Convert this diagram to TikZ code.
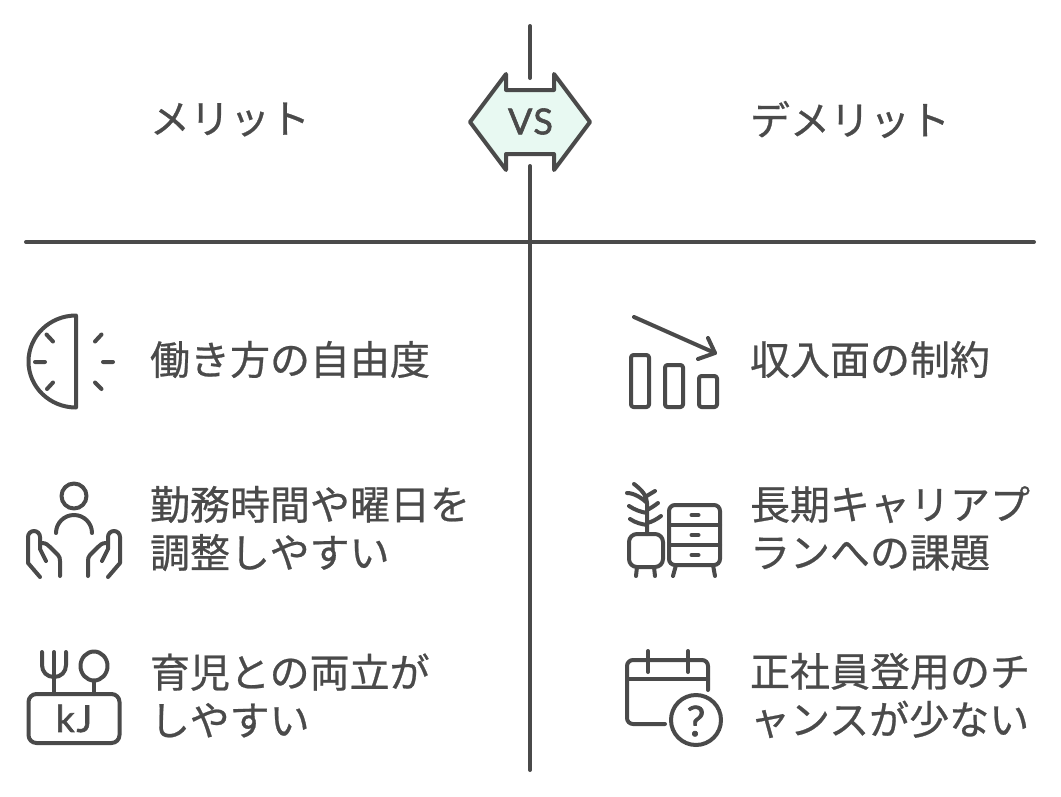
\documentclass[tikz,border=0pt]{standalone}
\usepackage{fontspec}
\newfontfamily\jp[RawFeature={embolden=0.6}]{Noto Sans CJK JP}
\newfontfamily\lat[RawFeature={embolden=1.6}]{Lato}
\definecolor{ink}{HTML}{4A4A4A}
\definecolor{mint}{HTML}{E8F9F2}
\tikzset{
  axis/.style={draw=ink,line width=4pt,line cap=round},
  ico/.style={draw=ink,line width=4pt,line cap=round,line join=round},
  label/.style={anchor=west,inner sep=0pt,outer sep=0pt,text=ink,align=left,
    font={\jp\fontsize{40}{48}\selectfont}},
  latin/.style={inner sep=0pt,outer sep=0pt,text=ink}
}
\begin{document}
\begin{tikzpicture}[x=1pt,y=-1pt]
\useasboundingbox (0,0) rectangle (1061,796);
\fill[white] (0,0) rectangle (1061,796);
% axes
\coordinate (vt) at (530,26); \coordinate (vm) at (530,78);
\coordinate (vb) at (530,166); \coordinate (ve) at (530,770);
\coordinate (hl) at (26,242); \coordinate (hr) at (1034,242);
\draw[axis] (vt) -- (vm);
\draw[axis] (vb) -- (ve);
\draw[axis] (hl) -- (hr);
% VS badge
\draw[draw=ink,fill=mint,line width=4pt,line join=round]
  (470,122) -- (506,74) -- (506,90) -- (554,90) -- (554,74) -- (590,122)
  -- (554,170) -- (554,154) -- (506,154) -- (506,170) -- cycle;
\node[latin,font={\lat\fontsize{36}{36}\selectfont}] (vs) at (530.5,121.5) {V\kern1pt S};
% labels
\node[label] (l0) at (150,119.5) {メリット};
\node[label] (r0) at (750,119.5) {デメリット};
\node[label] (l1) at (150,359.5) {働き方の自由度};
\node[label] (r1) at (750,359.5) {収入面の制約};
\node[label] (l2) at (150,528.5) {勤務時間や曜日を\\調整しやすい};
\node[label] (r2) at (750,528.5) {長期キャリアプ\\ランへの課題};
\node[label] (l3) at (150,695.5) {育児との両立が\\しやすい};
\node[label] (r3) at (750,695.5) {正社員登用のチ\\ャンスが少ない};
% icon 1: half clock
\draw[ico] (76,315.5) -- (76,407.5) arc[start angle=90,end angle=270,radius=46,x radius=47.5];
\draw[ico] (35,362) -- (45,362) (46.5,334.5) -- (53,341.5) (47,389) -- (53,382.5)
  (95,341.5) -- (101.5,334.5) (103,362) -- (113,362) (95,382.5) -- (101.5,389);
% icon 2: person in hands
\draw[ico] (74,496) circle[radius=12.5];
\draw[ico] (56,533) arc[start angle=180,end angle=360,radius=18];
\foreach \s in {1,-1}{
  \begin{scope}[xshift=74pt,xscale=\s]
  \draw[ico] (-34,577) -- (-46,563) -- (-46,537) arc[start angle=180,end angle=360,radius=6]
     -- (-34,549) -- (-28,561);
  \draw[ico] (-32,543) .. controls (-28,543) and (-26,545) .. (-24,547) -- (-16,555)
     .. controls (-14.5,557) and (-14,558) .. (-14,561) -- (-14,576);
  \end{scope}
}
% icon 3: fork, spoon, kJ
\draw[ico] (42,652) -- (42,665) .. controls (42,672) and (47,677) .. (54,677)
  .. controls (61,677) and (66,672) .. (66,665) -- (66,652);
\draw[ico] (54,652) -- (54,694);
\draw[ico] (94,666) ellipse[x radius=13.5,y radius=14.5];
\draw[ico] (94,681) -- (94,694);
\draw[ico,rounded corners=8pt] (28.5,694) rectangle (119.5,743);
\node[latin,font={\lat\fontsize{37}{37}\selectfont}] (kj) at (74,718.5) {k\kern2pt J};
% icon 4: falling bars
\draw[ico] (634,317) -- (715,353);
\draw[ico] (708,338) -- (715,353) -- (698,359);
\draw[ico,rounded corners=2.5pt] (631,355) rectangle (649,407);
\draw[ico,rounded corners=2.5pt] (665,365) rectangle (683,407);
\draw[ico,rounded corners=2.5pt] (699,376) rectangle (717,407);
% icon 5: plant and drawers
\draw[ico,rounded corners=6pt] (669,505) rectangle (720,565);
\draw[ico] (669,525) -- (720,525) (669,545) -- (720,545);
\draw[ico] (691.5,515) -- (698.5,515) (691.5,535) -- (698.5,535) (691.5,555) -- (698.5,555);
\draw[ico] (676,565) -- (673,576) (713,565) -- (715,576);
\draw[ico,rounded corners=8pt] (629,534) rectangle (663,567);
\draw[ico] (637,567) -- (636,576) (654,567) -- (655,576);
\draw[ico] (647,534) -- (647,503) .. controls (647,496) and (642,490) .. (634,484);
\draw[ico] (627,493) .. controls (634,493) and (642,498) .. (647,503);
\draw[ico] (655,491) -- (645,497);
\draw[ico] (629,506) .. controls (635,510) and (641,512) .. (647,513);
\draw[ico] (658,503) .. controls (654,506) and (651,508) .. (647,510);
\draw[ico] (630,519) .. controls (636,523) and (641,524) .. (647,525);
\draw[ico] (661,516) .. controls (657,519) and (652,522) .. (647,523);
% icon 6: calendar with question
\draw[ico,rounded corners=6pt] (665,724) -- (627,724) -- (627,660) -- (708,660) -- (708,690);
\draw[ico] (627,679) -- (708,679);
\draw[ico] (648,651) -- (648,672) (688,651) -- (688,672);
\draw[ico] (696,720) circle[radius=25];
\node[latin,font={\lat\fontsize{42}{42}\selectfont}] (q) at (696,721) {?};
\end{tikzpicture}
\end{document}
